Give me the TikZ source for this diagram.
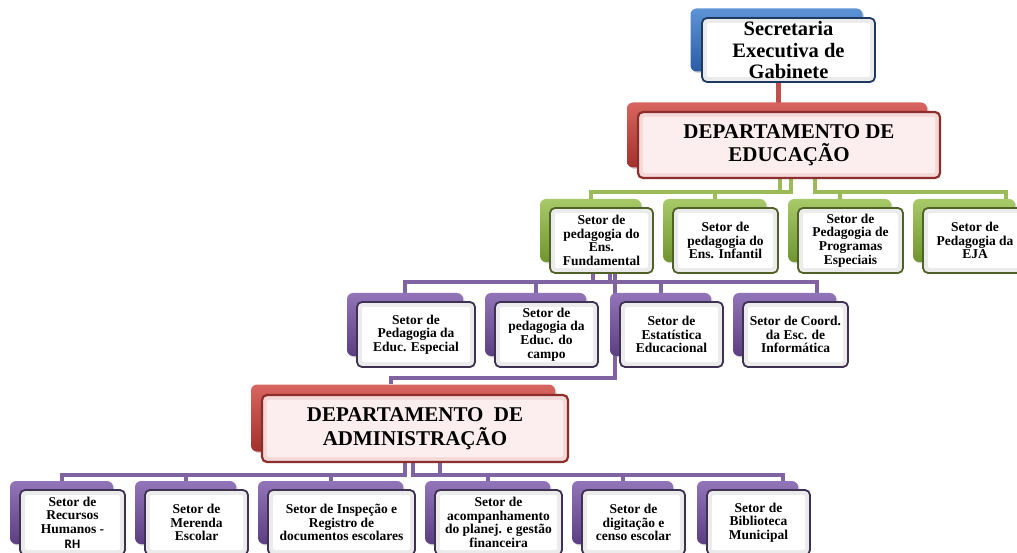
\documentclass[tikz,border=0pt]{standalone}
\usepackage{fontspec}
\setmainfont{Liberation Serif}
\newfontfamily\rhfont{Carlito}
\usetikzlibrary{shadows}
\pgfdeclarelayer{bg}
\pgfsetlayers{bg,main}
\definecolor{blueA}{HTML}{5E93D6}
\definecolor{blueB}{HTML}{2A5CA3}
\definecolor{blueD}{HTML}{1F3A5F}
\definecolor{redA}{HTML}{D8655F}
\definecolor{redB}{HTML}{A2302D}
\definecolor{redD}{HTML}{8B2E2C}
\definecolor{redL}{HTML}{F3D9D8}
\definecolor{redI}{HTML}{FCEEEE}
\definecolor{grA}{HTML}{A8C968}
\definecolor{grB}{HTML}{6F9530}
\definecolor{grD}{HTML}{4F6228}
\definecolor{grL}{HTML}{9BBB59}
\definecolor{puA}{HTML}{9274B9}
\definecolor{puB}{HTML}{5C3F83}
\definecolor{puD}{HTML}{3F3151}
\definecolor{puL}{HTML}{8064A2}
\definecolor{redS}{HTML}{C0504D}
\newcommand\orgbox[9]{%
  \node[backbox={#6}{#7}, minimum width=#4pt-2pt, minimum height=#5pt-2pt] (#1b) at (#2-11,#3-10) {};
  \node[frontbox=#8, smalltext, minimum width=#4pt, minimum height=#5pt] (#1) at (#2,#3) {#9};
}
\tikzset{
  backbox/.style 2 args={rounded corners=6pt, top color=#1, bottom color=#2,
    drop shadow={opacity=0.35, shadow xshift=1.5pt, shadow yshift=-1.5pt}},
  frontbox/.style={rounded corners=5pt, draw=#1, line width=1.8pt, fill=gray!16,
    align=center, inner sep=2pt,
    path picture={\fill[white, rounded corners=2pt]
      ([shift={(5pt,-5pt)}]path picture bounding box.north west) rectangle
      ([shift={(-5pt,5pt)}]path picture bounding box.south east);}},
  redfront/.style={rounded corners=5pt, draw=redD, line width=2.2pt, fill=redL,
    align=center, inner sep=2pt,
    path picture={\fill[redI, rounded corners=2pt]
      ([shift={(5pt,-5pt)}]path picture bounding box.north west) rectangle
      ([shift={(-5pt,5pt)}]path picture bounding box.south east);}},
  smalltext/.style={font=\fontsize{13.5}{13.6}\selectfont\bfseries},
  big/.style={font=\fontsize{21}{23.5}\selectfont\bfseries},
  gline/.style={draw=grL, line width=4pt},
  pline/.style={draw=puL, line width=4pt},
  rline/.style={draw=redS, line width=5pt},
}
\begin{document}
\begin{tikzpicture}[x=1pt,y=-1pt]
\useasboundingbox (0,0) rectangle (1017,553);
\begin{scope}
\clip (0,0) rectangle (1017,553);
% top
\node[backbox={blueA}{blueB}, minimum width=172pt, minimum height=63pt] (secb) at (776.5,40) {};
\node[frontbox=blueD, minimum width=173pt, minimum height=64pt,
  font=\fontsize{20.5}{21.5}\selectfont\bfseries] (sec) at (788.5,50) {Secretaria\\Executiva de\\Gabinete};
% Departamento de Educacao
\node[backbox={redA}{redB}, minimum width=300pt, minimum height=65pt] (dedb) at (777,135) {};
\node[redfront, minimum width=302pt, minimum height=66pt, big] (ded) at (789,145) {DEPARTAMENTO DE\\EDUCAÇÃO};
% green row
\orgbox{g1}{601.5}{240.5}{103}{65}{grA}{grB}{grD}{Setor de\\pedagogia do\\Ens.\\Fundamental}
\orgbox{g2}{725.5}{240.5}{105}{65}{grA}{grB}{grD}{Setor de\\pedagogia do\\Ens. Infantil}
\orgbox{g3}{850.5}{240.5}{105}{65}{grA}{grB}{grD}{Setor de\\Pedagogia de\\Programas\\Especiais}
\orgbox{g4}{975}{240.5}{104}{65}{grA}{grB}{grD}{Setor de\\Pedagogia da\\EJA}
% purple middle row
\orgbox{p1}{416}{334.5}{118}{65}{puA}{puB}{puD}{Setor de\\Pedagogia da\\Educ. Especial}
\orgbox{p2}{546.5}{334.5}{103}{65}{puA}{puB}{puD}{Setor de\\pedagogia da\\Educ. do\\campo}
\orgbox{p3}{671.5}{334.5}{103}{65}{puA}{puB}{puD}{Setor de\\Estatística\\Educacional}
\orgbox{p4}{795.5}{334.5}{105}{65}{puA}{puB}{puD}{Setor de Coord.\\da Esc. de\\Informática}
% Departamento de Administracao
\node[backbox={redA}{redB}, minimum width=304pt, minimum height=67pt] (dadmb) at (403,418) {};
\node[redfront, minimum width=306pt, minimum height=67pt, big] (dadm) at (415,428.5) {DEPARTAMENTO\ \ DE\\ADMINISTRAÇÃO};
% bottom row
\orgbox{b1}{72.5}{522.5}{105}{65}{puA}{puB}{puD}{Setor de\\Recursos\\Humanos -\\[1pt]{\rhfont\fontsize{13}{14}\selectfont RH}}
\orgbox{b2}{196.5}{522.5}{103}{65}{puA}{puB}{puD}{Setor de\\Merenda\\Escolar}
\orgbox{b3}{341.5}{522.5}{147}{65}{puA}{puB}{puD}{Setor de Inspeção e\\Registro de\\documentos escolares}
\orgbox{b4}{498.5}{522.5}{127}{65}{puA}{puB}{puD}{Setor de\\acompanhamento\\do planej. e gestão\\financeira}
\orgbox{b5}{633.5}{522.5}{103}{65}{puA}{puB}{puD}{Setor de\\digitação e\\censo escolar}
\orgbox{b6}{758.5}{522.5}{103}{65}{puA}{puB}{puD}{Setor de\\Biblioteca\\Municipal}
\end{scope}
% connectors
\begin{pgfonlayer}{bg}
\draw[rline] ([xshift=-10.5pt]sec.south) -- ([xshift=-11pt]ded.north);
\draw[gline] ([xshift=-9pt]ded.south) -- ++(0,13) -| (g1b.north);
\draw[gline] ([xshift=2pt]ded.south) -- ++(0,13) -| (g2b.north);
\draw[gline] ([xshift=26pt]ded.south) -- ++(0,13) -| (g3b.north);
\draw[gline] ([xshift=26pt]ded.south) -- ++(0,13) -| ([xshift=-9pt]g4b.north east);
\draw[pline] ([xshift=-8.5pt]g1.south) -- ++(0,8) -| (p1b.north);
\draw[pline] ([xshift=8.5pt]g1.south) -- ++(0,8) -| (p2b.north);
\draw[pline] ([xshift=8.5pt]g1.south) -- ++(0,8) -| (p3b.north);
\draw[pline] ([xshift=8.5pt]g1.south) -- ++(0,8) -| ([xshift=-19pt]p4b.north east);
\coordinate (j) at (615,378);
\draw[pline] (g1.south -| j) -- (j) -| ([xshift=-12pt]dadmb.north);
\draw[pline] ([xshift=-10pt]dadm.south) -- ++(0,12) -| (b1b.north);
\draw[pline] ([xshift=-10pt]dadm.south) -- ++(0,12) -| (b2b.north);
\draw[pline] ([xshift=-10pt]dadm.south) -- ++(0,12) -| (b3b.north);
\draw[pline] ([xshift=-2pt]dadm.south) -- ++(0,12) -| (b4b.north);
\draw[pline] ([xshift=25pt]dadm.south) -- ++(0,12) -| (b5b.north);
\draw[pline] ([xshift=25pt]dadm.south) -- ++(0,12) -| ([xshift=-15pt]b6b.north east);
\end{pgfonlayer}
\end{tikzpicture}
\end{document}
